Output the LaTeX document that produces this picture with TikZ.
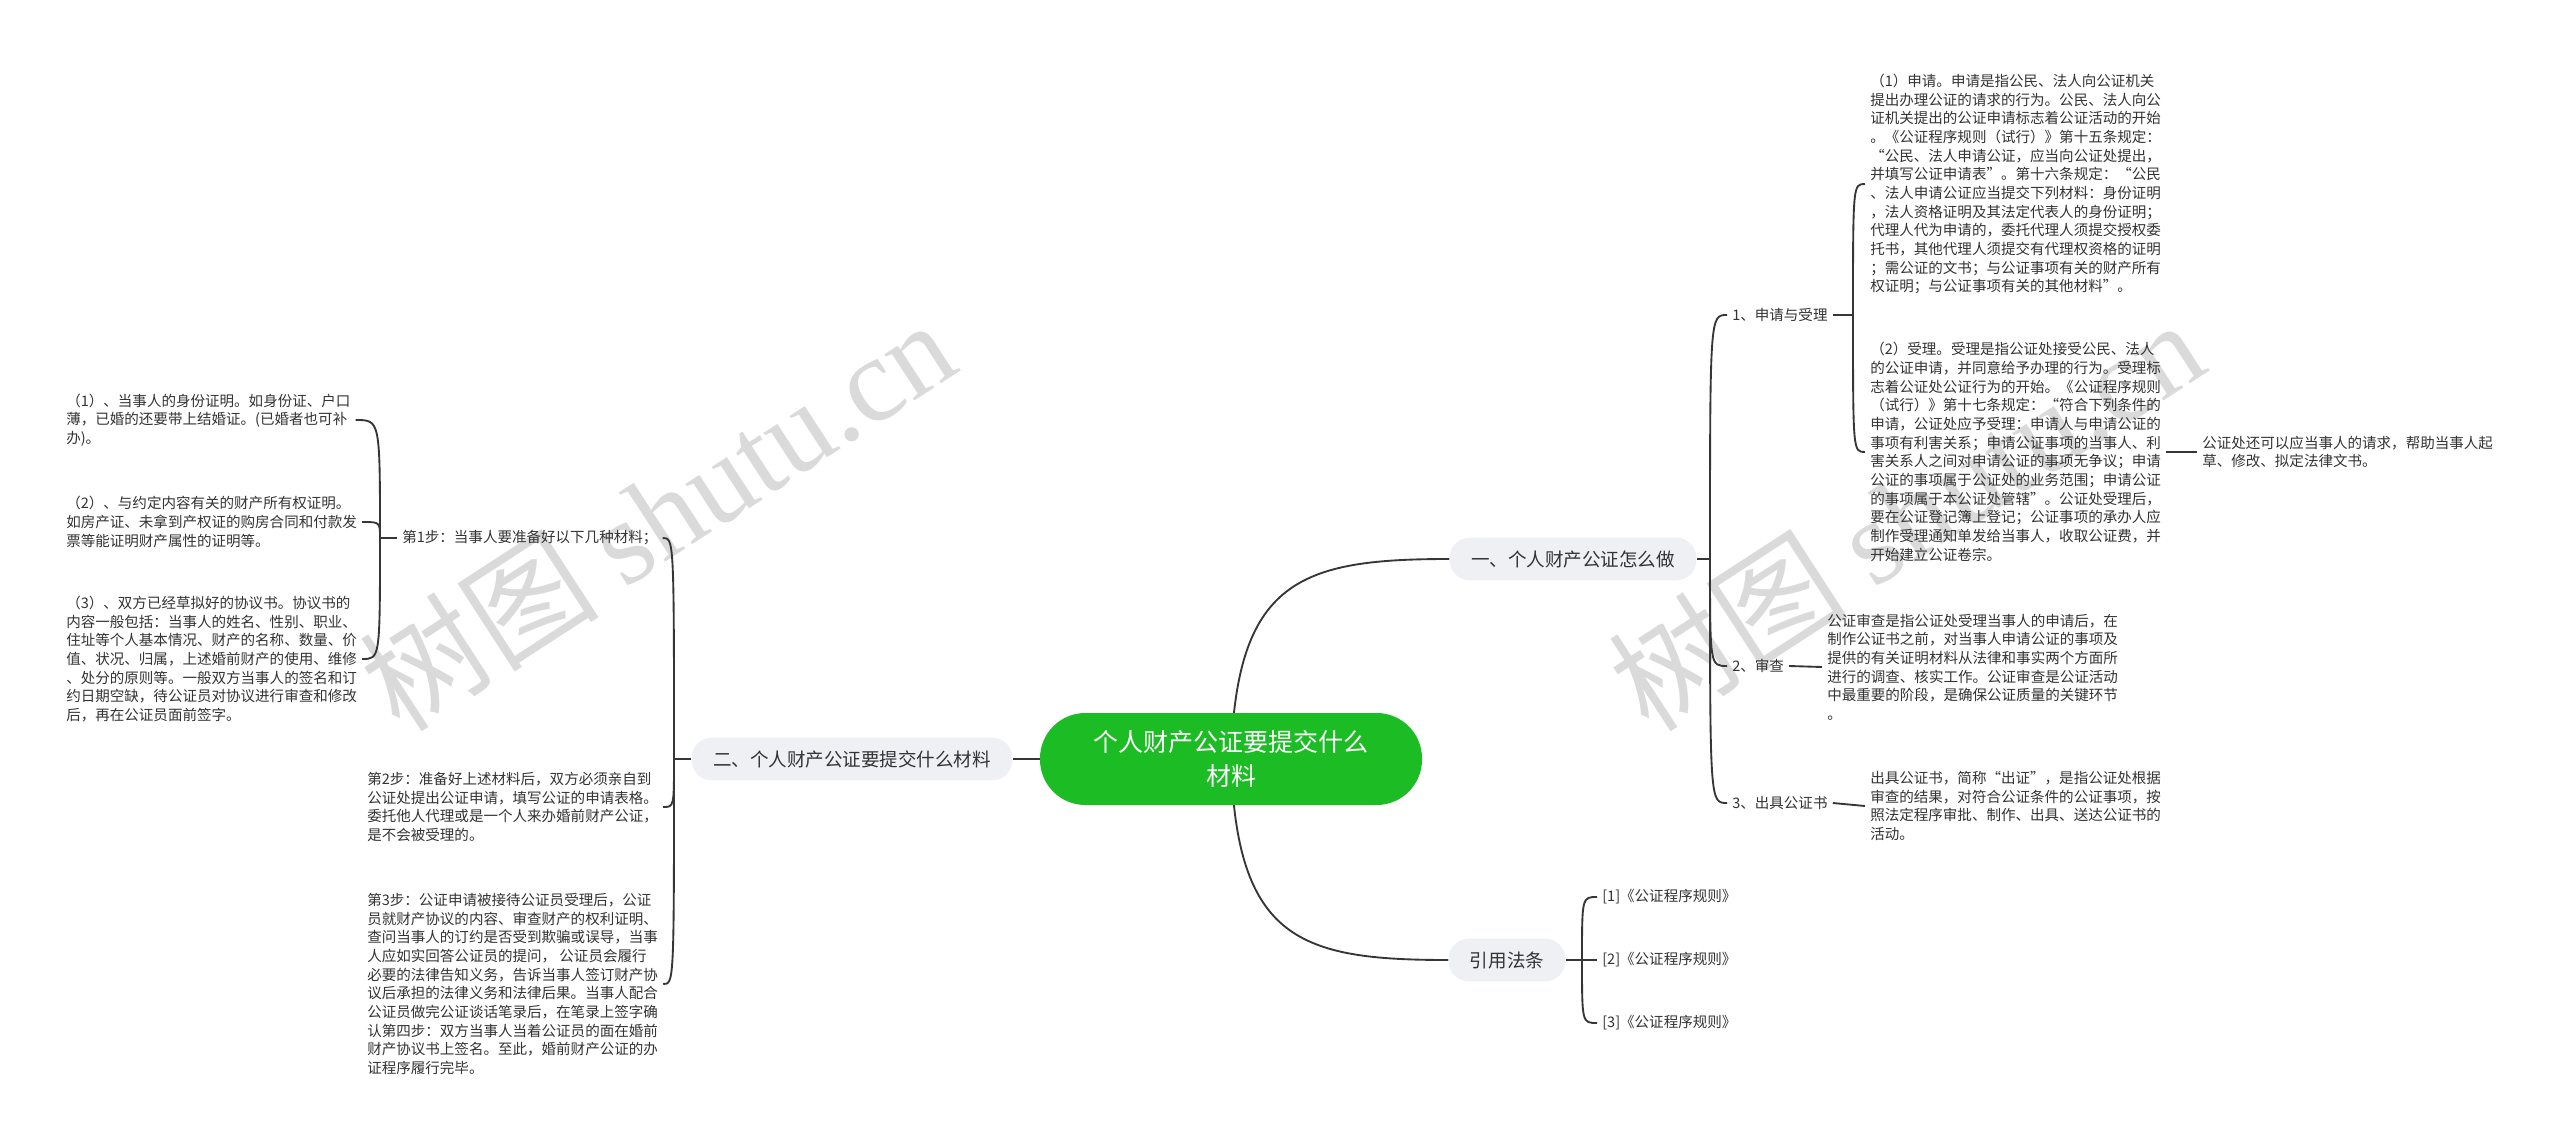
\documentclass[tikz,border=0pt]{standalone}
\usepackage{fontspec}
\setmainfont{Noto Sans CJK SC}
\newfontfamily\wmlatin{Liberation Serif}
\usetikzlibrary{backgrounds}
\definecolor{ink}{HTML}{333333}
\definecolor{edge}{HTML}{363636}
\definecolor{rootg}{HTML}{1CBC24}
\definecolor{mainbg}{HTML}{EEF0F3}
\definecolor{wm}{HTML}{DADADA}
\begin{document}
\begin{tikzpicture}[x=0.75pt,y=-0.75pt,
  line/.style={draw=edge, line width=1.4pt},
  root/.style={fill=rootg, text=white, rounded corners=34pt, minimum width=286.5pt, minimum height=69pt, align=center, font=\fontsize{18.75pt}{25.5pt}\selectfont, inner sep=0pt},
  topic/.style={fill=mainbg, text=ink, rounded corners=15pt, minimum height=32pt, inner xsep=16pt, inner ysep=0pt, font=\fontsize{13.9pt}{16pt}\selectfont},
  txt/.style={text=ink, align=left, anchor=west, inner xsep=3.75pt, inner ysep=0pt, font=\fontsize{10.9pt}{14pt}\selectfont},
  wmark/.style={text=wm, rotate=33, font=\fontsize{90pt}{90pt}\selectfont, inner sep=0pt}
]
\useasboundingbox (0,0) rectangle (2560,1145);
\begin{pgfonlayer}{background}
\fill[white] (0,0) rectangle (2560,1145);
% watermarks
\node[wmark] (wm1) at (657,514) {树图 {\wmlatin shutu.cn}};
\node[wmark] (wm2) at (1906,514) {树图 {\wmlatin shutu.cn}};
\end{pgfonlayer}

% main nodes
\node[root] (root) at (1231,759) {个人财产公证要提交什么\\材料};
\node[topic] (n1) at (1573,559) {一、个人财产公证怎么做};
\node[topic] (n2) at (852,759) {二、个人财产公证要提交什么材料};
\node[topic] (n3) at (1507,960) {引用法条};

% junctions
\coordinate (J1) at (1710,559);
\coordinate (J2) at (674,759);
\coordinate (J3) at (1853,315);
\coordinate (J4) at (380,538);
\coordinate (J5) at (1582,960);

% right subtree
\node[txt] (a1) at (1727,315) {1、申请与受理};
\node[txt] (a2) at (1727,666) {2、审查};
\node[txt] (a3) at (1727,803) {3、出具公证书};

\node[txt] (b1) at (1865,184) {（1）申请。申请是指公民、法人向公证机关\\
提出办理公证的请求的行为。公民、法人向公\\
证机关提出的公证申请标志着公证活动的开始\\
。《公证程序规则（试行）》第十五条规定：\\
“公民、法人申请公证，应当向公证处提出，\\
并填写公证申请表”。第十六条规定：“公民\\
、法人申请公证应当提交下列材料：身份证明\\
，法人资格证明及其法定代表人的身份证明；\\
代理人代为申请的，委托代理人须提交授权委\\
托书，其他代理人须提交有代理权资格的证明\\
；需公证的文书；与公证事项有关的财产所有\\
权证明；与公证事项有关的其他材料”。};

\node[txt] (b2) at (1865,452) {（2）受理。受理是指公证处接受公民、法人\\
的公证申请，并同意给予办理的行为。受理标\\
志着公证处公证行为的开始。《公证程序规则\\
（试行）》第十七条规定：“符合下列条件的\\
申请，公证处应予受理：申请人与申请公证的\\
事项有利害关系；申请公证事项的当事人、利\\
害关系人之间对申请公证的事项无争议；申请\\
公证的事项属于公证处的业务范围；申请公证\\
的事项属于本公证处管辖”。公证处受理后，\\
要在公证登记簿上登记；公证事项的承办人应\\
制作受理通知单发给当事人，收取公证费，并\\
开始建立公证卷宗。};

\node[txt] (c1) at (2197,452) {公证处还可以应当事人的请求，帮助当事人起\\
草、修改、拟定法律文书。};

\node[txt] (b3) at (1822,667) {公证审查是指公证处受理当事人的申请后，在\\
制作公证书之前，对当事人申请公证的事项及\\
提供的有关证明材料从法律和事实两个方面所\\
进行的调查、核实工作。公证审查是公证活动\\
中最重要的阶段，是确保公证质量的关键环节\\
。};

\node[txt] (b4) at (1865,806) {出具公证书，简称“出证”，是指公证处根据\\
审查的结果，对符合公证条件的公证事项，按\\
照法定程序审批、制作、出具、送达公证书的\\
活动。};

% references
\node[txt] (r1) at (1597,897) {[1]《公证程序规则》};
\node[txt] (r2) at (1597,960) {[2]《公证程序规则》};
\node[txt] (r3) at (1597,1023) {[3]《公证程序规则》};

% left subtree
\node[txt] (s1) at (397,538) {第1步：当事人要准备好以下几种材料；};
\node[txt] (s2) at (362,807) {第2步：准备好上述材料后，双方必须亲自到\\
公证处提出公证申请，填写公证的申请表格。\\
委托他人代理或是一个人来办婚前财产公证，\\
是不会被受理的。};
\node[txt] (s3) at (362,984) {第3步：公证申请被接待公证员受理后，公证\\
员就财产协议的内容、审查财产的权利证明、\\
查问当事人的订约是否受到欺骗或误导，当事\\
人应如实回答公证员的提问， 公证员会履行\\
必要的法律告知义务，告诉当事人签订财产协\\
议后承担的法律义务和法律后果。当事人配合\\
公证员做完公证谈话笔录后，在笔录上签字确\\
认第四步：双方当事人当着公证员的面在婚前\\
财产协议书上签名。至此，婚前财产公证的办\\
证程序履行完毕。};

\node[txt] (i1) at (61,420) {（1）、当事人的身份证明。如身份证、户口\\
薄，已婚的还要带上结婚证。(已婚者也可补\\
办)。};
\node[txt] (i2) at (61,522) {（2）、与约定内容有关的财产所有权证明。\\
如房产证、未拿到产权证的购房合同和付款发\\
票等能证明财产属性的证明等。};
\node[txt] (i3) at (61,659) {（3）、双方已经草拟好的协议书。协议书的\\
内容一般包括：当事人的姓名、性别、职业、\\
住址等个人基本情况、财产的名称、数量、价\\
值、状况、归属，上述婚前财产的使用、维修\\
、处分的原则等。一般双方当事人的签名和订\\
约日期空缺，待公证员对协议进行审查和修改\\
后，再在公证员面前签字。};

\begin{pgfonlayer}{background}
% root connectors
\draw[line] (root.center) .. controls (1236,580) and (1300,559) .. (n1.west);
\draw[line] (root.center) .. controls (1236,940) and (1300,960) .. (n3.west);
\draw[line] (root.center) -- (n2.east);
% branch one
\draw[line] (n1.east) -- (J1);
\foreach \c in {a1,a2,a3} \draw[line] (J1) .. controls (J1 |- \c.west) .. (\c.west);
\draw[line] (a1.east) -- (J3);
\foreach \c in {b1,b2} \draw[line] (J3) .. controls (J3 |- \c.west) .. (\c.west);
\draw[line] (b2.east) -- (c1.west);
\draw[line] (a2.east) -- (b3.west);
\draw[line] (a3.east) -- (b4.west);
% references
\draw[line] (n3.east) -- (J5);
\foreach \c in {r1,r2,r3} \draw[line] (J5) .. controls (J5 |- \c.west) .. (\c.west);
% branch two
\draw[line] (n2.west) -- (J2);
\foreach \c in {s1,s2,s3} \draw[line] (J2) .. controls (J2 |- \c.east) .. (\c.east);
\draw[line] (s1.west) -- (J4);
\foreach \c in {i1,i2,i3} \draw[line] (J4) .. controls (J4 |- \c.east) .. (\c.east);
\end{pgfonlayer}
\end{tikzpicture}
\end{document}
